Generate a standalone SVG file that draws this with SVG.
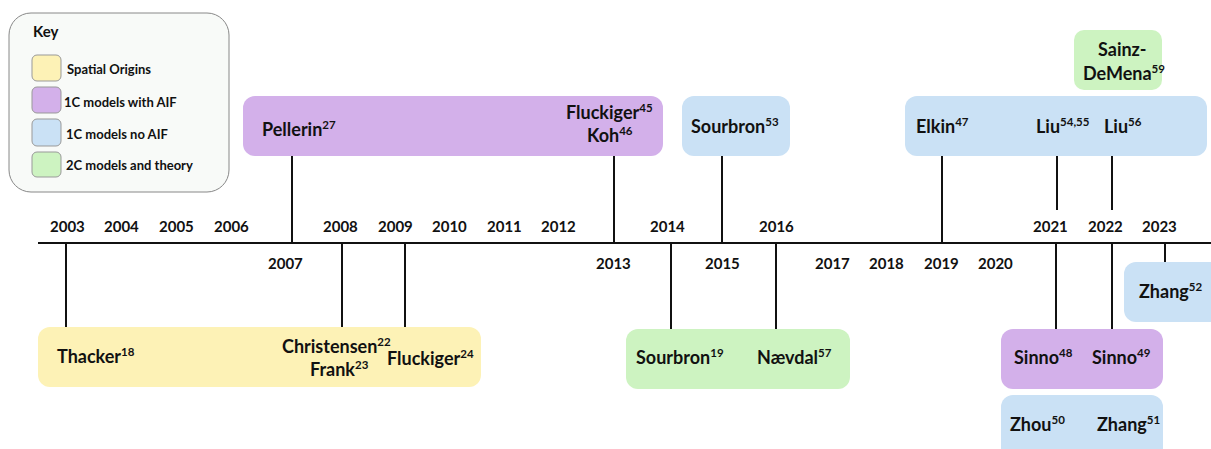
<svg xmlns="http://www.w3.org/2000/svg" width="1211" height="449" viewBox="0 0 1211 449">
<style>
text{font-family:Lato,"Carlito","Liberation Sans",sans-serif;font-weight:bold;fill:#111}
.lbl{font-size:18px}
.yr{font-size:15px}
.key{font-size:13px}
.sup{font-size:11.5px}
.yel{fill:#fdf2b6}
.pur{fill:#d3b0ea}
.blu{fill:#cae1f5}
.grn{fill:#cdf3c1}
.sw{stroke:#999;stroke-width:1}
.ln{stroke:#111;stroke-width:2;fill:none}
</style>
<g id="key">
<rect x="9" y="13" width="220" height="179" rx="22" fill="#f8faf8" stroke="#888" stroke-width="1"/>
<text x="33" y="37" style="font-size:15px">Key</text>
<rect class="yel sw" x="32" y="55" width="29" height="26" rx="5"/>
<rect class="pur sw" x="32" y="87" width="29" height="26" rx="5"/>
<rect class="blu sw" x="32" y="119" width="29" height="27" rx="5"/>
<rect class="grn sw" x="32" y="152" width="29" height="25" rx="5"/>
<text class="key" x="67" y="74">Spatial Origins</text>
<text class="key" x="64" y="107">1C models with AIF</text>
<text class="key" x="66" y="139">1C models no AIF</text>
<text class="key" x="66" y="170">2C models and theory</text>
</g>
<g id="connectors">
<line class="ln" x1="38" y1="243" x2="1211" y2="243"/>
<line class="ln" x1="292" y1="156" x2="292" y2="243"/>
<line class="ln" x1="614" y1="156" x2="614" y2="243"/>
<line class="ln" x1="722" y1="156" x2="722" y2="243"/>
<line class="ln" x1="942" y1="156" x2="942" y2="243"/>
<line class="ln" x1="1057" y1="156" x2="1057" y2="210"/>
<line class="ln" x1="1112" y1="156" x2="1112" y2="210"/>
<line class="ln" x1="66" y1="243" x2="66" y2="335"/>
<line class="ln" x1="342" y1="243" x2="342" y2="335"/>
<line class="ln" x1="405" y1="243" x2="405" y2="335"/>
<line class="ln" x1="671" y1="243" x2="671" y2="335"/>
<line class="ln" x1="776" y1="243" x2="776" y2="335"/>
<line class="ln" x1="1056" y1="243" x2="1056" y2="337"/>
<line class="ln" x1="1112" y1="243" x2="1112" y2="337"/>
<line class="ln" x1="1165" y1="243" x2="1165" y2="263"/>
</g>
<g id="years">
<text class="yr" x="50" y="232">2003</text>
<text class="yr" x="104" y="232">2004</text>
<text class="yr" x="159" y="232">2005</text>
<text class="yr" x="214" y="232">2006</text>
<text class="yr" x="323" y="232">2008</text>
<text class="yr" x="378" y="232">2009</text>
<text class="yr" x="432" y="232">2010</text>
<text class="yr" x="487" y="232">2011</text>
<text class="yr" x="541" y="232">2012</text>
<text class="yr" x="650" y="232">2014</text>
<text class="yr" x="759" y="232">2016</text>
<text class="yr" x="1033" y="232">2021</text>
<text class="yr" x="1088" y="232">2022</text>
<text class="yr" x="1142" y="232">2023</text>
<text class="yr" x="268" y="269">2007</text>
<text class="yr" x="596" y="269">2013</text>
<text class="yr" x="705" y="269">2015</text>
<text class="yr" x="815" y="269">2017</text>
<text class="yr" x="869" y="269">2018</text>
<text class="yr" x="924" y="269">2019</text>
<text class="yr" x="978" y="269">2020</text>
</g>
<g id="n-pellerin">
<rect class="pur" x="243" y="96" width="420" height="60" rx="12"/>
<text class="lbl" x="262" y="136">Pellerin<tspan class="sup" dy="-7">27</tspan></text>
<text class="lbl" x="566" y="119">Fluckiger<tspan class="sup" dy="-7">45</tspan></text>
<text class="lbl" x="587" y="142">Koh<tspan class="sup" dy="-7">46</tspan></text>
</g>
<g id="n-sourbron53">
<rect class="blu" x="682" y="96" width="108" height="60" rx="12"/>
<text class="lbl" x="691" y="133">Sourbron<tspan class="sup" dy="-7">53</tspan></text>
</g>
<g id="n-elkin">
<rect class="blu" x="905" y="96" width="302" height="60" rx="12"/>
<text class="lbl" x="916" y="133">Elkin<tspan class="sup" dy="-7">47</tspan></text>
<text class="lbl" x="1036" y="133">Liu<tspan class="sup" dy="-7">54,55</tspan></text>
<text class="lbl" x="1104" y="133">Liu<tspan class="sup" dy="-7">56</tspan></text>
</g>
<g id="n-sainz">
<rect class="grn" x="1074" y="30" width="88" height="60" rx="10"/>
<text class="lbl" x="1098" y="56">Sainz-</text>
<text class="lbl" x="1083" y="80">DeMena<tspan class="sup" dy="-7">59</tspan></text>
</g>
<g id="n-thacker">
<rect class="yel" x="38" y="327" width="443" height="60" rx="12"/>
<text class="lbl" x="57" y="363">Thacker<tspan class="sup" dy="-7">18</tspan></text>
<text class="lbl" x="282" y="353">Christensen<tspan class="sup" dy="-7">22</tspan></text>
<text class="lbl" x="310" y="376">Frank<tspan class="sup" dy="-7">23</tspan></text>
<text class="lbl" x="387" y="365">Fluckiger<tspan class="sup" dy="-7">24</tspan></text>
</g>
<g id="n-sourbron19">
<rect class="grn" x="626" y="329" width="224" height="60" rx="12"/>
<text class="lbl" x="636" y="364">Sourbron<tspan class="sup" dy="-7">19</tspan></text>
<text class="lbl" x="757" y="364">Nævdal<tspan class="sup" dy="-7">57</tspan></text>
</g>
<g id="n-zhang52">
<rect class="blu" x="1124" y="262" width="100" height="60" rx="12"/>
<text class="lbl" x="1139" y="298">Zhang<tspan class="sup" dy="-7">52</tspan></text>
</g>
<g id="n-sinno">
<rect class="pur" x="1001" y="329" width="162" height="60" rx="12"/>
<text class="lbl" x="1014" y="364">Sinno<tspan class="sup" dy="-7">48</tspan></text>
<text class="lbl" x="1092" y="364">Sinno<tspan class="sup" dy="-7">49</tspan></text>
</g>
<g id="n-zhou">
<rect class="blu" x="1001" y="395" width="162" height="70" rx="12"/>
<text class="lbl" x="1010" y="431">Zhou<tspan class="sup" dy="-7">50</tspan></text>
<text class="lbl" x="1097" y="431">Zhang<tspan class="sup" dy="-7">51</tspan></text>
</g>
</svg>
